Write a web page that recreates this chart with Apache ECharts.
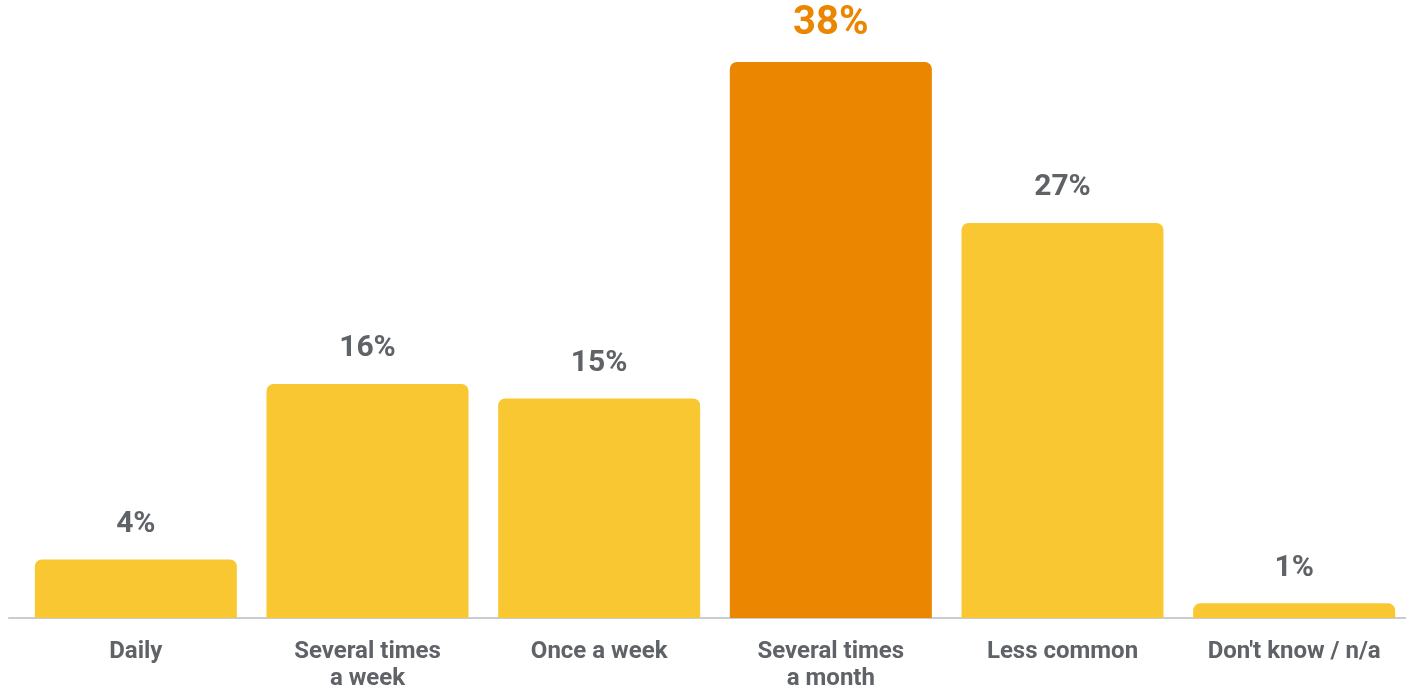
<!DOCTYPE html>
<html>
<head>
<meta charset="utf-8">
<script src="https://cdn.jsdelivr.net/npm/echarts@6/dist/echarts.min.js"></script>
<style>
  html, body { margin: 0; padding: 0; background: #fff; }
  #chart { width: 1406px; height: 688px; }
</style>
</head>
<body>
<div id="chart"></div>
<script>
var categories = ['Daily', 'Several times\na week', 'Once a week', 'Several times\na month', 'Less common', "Don't know / n/a"];
var values = [4, 16, 15, 38, 27, 1];
var highlightIndex = 3;

var yellow = '#F9C732';
var orange = '#EA8600';
var grey = '#5F6368';

var barData = values.map(function (v, i) {
    var hot = i === highlightIndex;
    return {
        value: v,
        itemStyle: { color: hot ? orange : yellow },
        label: hot ? { color: orange, fontSize: 40, distance: 18 } : {}
    };
});

var option = {
    animation: false,
    grid: [
        { left: 20, right: -4, top: 62, bottom: 70, outerBoundsMode: 'none' },
        // just for the baseline, which runs a bit wider than the bars
        { left: 9, right: 0, top: 62, bottom: 70, outerBoundsMode: 'none' }
    ],
    xAxis: [
        {
            type: 'category',
            data: categories,
            gridIndex: 0,
            axisLine: { show: false },
            axisTick: { show: false },
            axisLabel: {
                interval: 0,
                margin: 20,
                fontFamily: 'Roboto',
                fontWeight: 'bold',
                fontSize: 24,
                lineHeight: 27,
                color: grey
            }
        },
        {
            type: 'value',
            gridIndex: 1,
            min: 0,
            max: 1,
            axisLine: { show: true, lineStyle: { color: '#C9CCD1', width: 2 } },
            axisTick: { show: false },
            axisLabel: { show: false },
            splitLine: { show: false }
        }
    ],
    yAxis: [
        { type: 'value', gridIndex: 0, min: 0, max: 38, show: false },
        { type: 'value', gridIndex: 1, min: 0, max: 1, show: false }
    ],
    series: [
        {
            type: 'bar',
            xAxisIndex: 0,
            yAxisIndex: 0,
            data: barData,
            barWidth: 202,
            itemStyle: { borderRadius: [7, 7, 0, 0] },
            label: {
                show: true,
                position: 'top',
                distance: 20,
                formatter: '{c}%',
                fontFamily: 'Roboto',
                fontWeight: 'bold',
                fontSize: 30,
                color: grey
            },
            z: 3
        }
    ]
};

var myChart = echarts.init(document.getElementById('chart'));
myChart.setOption(option, true);
</script>
</body>
</html>
